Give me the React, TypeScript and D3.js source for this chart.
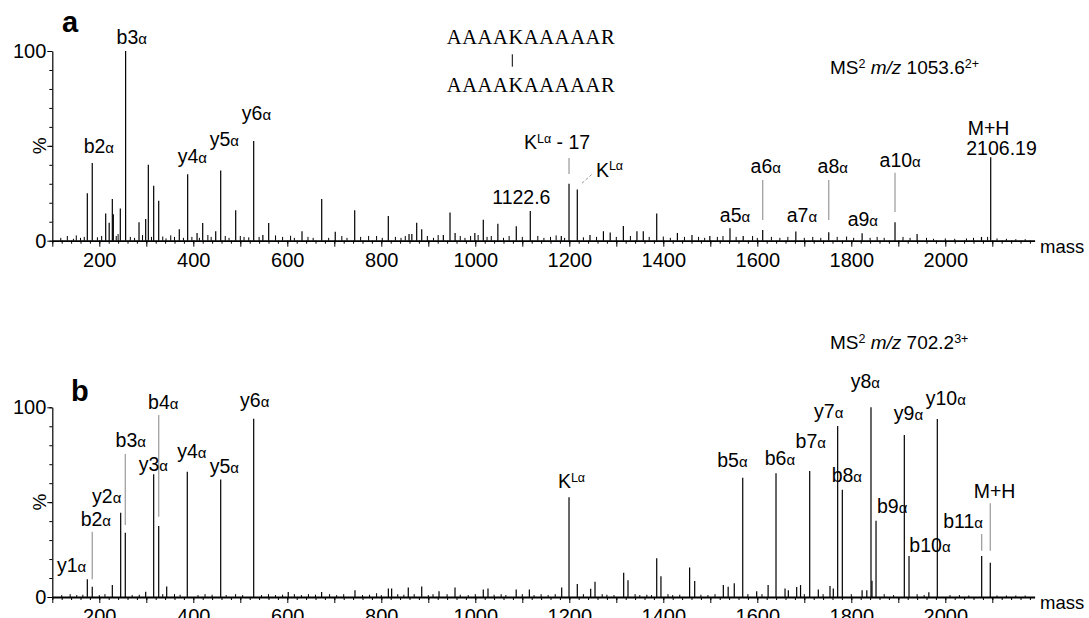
import React, { useEffect, useRef } from "react"
import * as d3 from "d3"

const W = 1089
const H = 618
const FONT = "'Liberation Sans', Arial, sans-serif"

// ---- panel a: MS2 m/z 1053.6 (2+) ----
// [mass, relative intensity %]
const peaksA: [number, number][] = [
  [174.5, 25], [185, 41], [213.6, 14.4], [221, 9.5], [227.7, 22], [229.8, 14], [244.7, 17], [256, 100],
  [284.5, 9.7], [298.7, 11.4], [304.3, 40], [315.7, 29], [326.4, 21], [370.2, 6], [388, 35], [408, 4],
  [420, 9.3], [447.7, 5], [458.3, 37], [490.2, 16], [528.5, 52.6], [548, 3], [560.4, 9.3], [631.3, 5],
  [673.2, 22], [702, 4.7], [743.4, 16], [814.9, 13], [859, 3.5], [865, 3.5], [875.3, 9.5], [886, 6],
  [932, 3], [946.2, 14.8], [957, 4], [999, 4], [1017, 11], [1048, 9], [1087.2, 7.6], [1117, 15.6],
  [1183, 2.5], [1199.4, 30], [1217, 27], [1244, 3], [1272.6, 5], [1287, 4.3], [1315, 7.7], [1343.9, 5],
  [1357.4, 5], [1386, 14.4], [1430, 4], [1461, 3], [1499, 2.5], [1541.9, 6.5], [1570, 2.5], [1611.5, 5.6],
  [1682, 4.8], [1752, 4.4], [1823, 3.9], [1893, 9.7], [1940, 3.5], [2077, 2], [2096.6, 44],
]
const noiseA: [number, number][] = [
  [118, 1.5], [132, 2.5], [145, 1], [151, 2.8], [160, 1.5], [168, 2], [196, 1.8], [205, 2.5], [236, 2.5],
  [240, 3.5], [266, 2], [275, 1.5], [292, 3], [311, 2], [335, 2.2], [342, 1.2], [352, 2.8], [360, 2],
  [379, 1.5], [397, 2], [413, 1.5], [431, 3], [438, 2], [468, 2.5], [476, 1.5], [500, 2.5], [508, 2],
  [518, 1.8], [540, 2], [575, 2.8], [590, 2], [607, 2.6], [615, 1.5], [644, 2], [655, 1.5], [688, 1.5],
  [716, 2.5], [727, 1.5], [756, 2], [773, 2.5], [790, 2.5], [802, 1.5], [830, 2], [842, 1.5], [851, 2.5],
  [898, 2.5], [911, 1.5], [921, 3], [968, 2.5], [978, 1.5], [990, 2.5], [1006, 3], [1025, 2], [1034, 2.5],
  [1060, 1.5], [1072, 2.5], [1100, 2], [1133, 2.5], [1146, 1.5], [1160, 2], [1172, 2.8], [1190, 1.5],
  [1230, 1.8], [1258, 2], [1300, 2], [1330, 2.5], [1370, 2], [1400, 2.2], [1415, 1.5], [1445, 2],
  [1475, 2], [1488, 1.5], [1515, 2], [1527, 2.5], [1555, 2], [1590, 2.5], [1600, 1.5], [1630, 2],
  [1648, 1.5], [1665, 2], [1700, 1.5], [1718, 2], [1735, 1.5], [1770, 2], [1790, 2.2], [1805, 1.5],
  [1840, 1.5], [1855, 2], [1870, 1.5], [1910, 2], [1925, 1.5], [1960, 1.5], [1975, 1], [2000, 1.2],
  [2020, 1], [2045, 1.2], [2060, 1.5], [2090, 2], [2110, 1.2], [2130, 1], [2150, 0.8], [2170, 0.8],
]
// [text, mass at label centre, % at label baseline]; {..} = superscript
const labelsA: [string, number, number][] = [
  ["b3α", 269, 103.5], ["b2α", 199, 46], ["y4α", 398, 40.8], ["y5α", 466, 50], ["y6α", 534.5, 63.6],
  ["1122.6", 1098, 19.3], ["K{Lα} - 17", 1174, 48.3], ["K{Lα}", 1285.5, 33.7],
  ["a5α", 1552.5, 10], ["a6α", 1618, 35.5], ["a7α", 1695, 10], ["a8α", 1760.6, 35.5],
  ["a9α", 1824.5, 7.7], ["a10α", 1904, 39], ["M+H", 2092, 55.7], ["2106.19", 2119.6, 45.2],
]
// [mass, from %, to %]
const leadersA: [number, number, number][] = [
  [1611.5, 32, 10.9], [1752, 32, 10.9], [1893, 35.8, 15.1], [1199.4, 43.6, 35.2],
]
const dashedA: [number, number][] = [[1227, 30.3], [1248, 35]]

// ---- panel b: MS2 m/z 702.2 (3+) ----
const peaksB: [number, number][] = [
  [174.5, 9.3], [185, 5.4], [227.7, 6.3], [245.5, 44.4], [255.3, 33.9], [298.7, 2.8], [315.7, 64.7],
  [326.4, 37.4], [343.4, 5.5], [387.2, 66], [458.3, 62], [528.5, 94], [602, 2.7], [673, 2.7], [744, 3.5],
  [815, 4.5], [822, 4.5], [857.4, 5], [886, 5.6], [922.8, 3], [956.8, 5], [1017, 4], [1027, 4.5],
  [1087, 4], [1115, 4], [1183.8, 5], [1199.4, 52.6], [1217, 6.8], [1245.5, 4.3], [1254.7, 8],
  [1315.7, 12.8], [1324.9, 8.8], [1386, 20.4], [1395, 11], [1456, 15.6], [1466.8, 8.4], [1527.7, 6.3],
  [1538, 5.4], [1551, 7.2], [1569, 62.9], [1598.7, 3], [1623, 6.3], [1639.8, 65.2], [1659, 4.5],
  [1666, 3.5], [1683.8, 5.3], [1692, 6.3], [1711.5, 66.4], [1729.8, 4], [1754.7, 5.8], [1761.7, 4.5],
  [1771, 90.1], [1780.9, 56.6], [1823, 3.5], [1833, 3.5], [1841.9, 100], [1844, 8.6], [1852.6, 40.2],
  [1912.8, 85.4], [1922.8, 21.6], [1965, 2.5], [1983, 93.8], [2077.4, 21.6], [2095.7, 18.1],
]
const noiseB: [number, number][] = [
  [120, 1], [138, 1.5], [152, 1], [165, 1.2], [200, 1], [212, 1.5], [270, 1], [285, 1.2], [335, 1.5],
  [360, 1.5], [372, 1.2], [410, 1], [425, 1.5], [440, 1.2], [470, 1], [490, 1.5], [505, 1], [545, 1],
  [560, 1.5], [575, 1], [590, 1.2], [615, 1.5], [630, 1], [645, 1.5], [660, 1.2], [690, 1.5], [705, 1],
  [720, 1.5], [760, 1], [775, 1.2], [790, 2], [800, 1], [835, 1.5], [848, 1.2], [870, 1.5], [900, 1],
  [910, 1.5], [940, 1.5], [968, 1.2], [985, 1], [1000, 1.5], [1040, 1.2], [1055, 1.5], [1065, 1],
  [1100, 1.5], [1125, 1], [1140, 1.5], [1155, 1], [1170, 1.5], [1230, 1.5], [1270, 1.5], [1280, 1.2],
  [1295, 1], [1340, 1.5], [1350, 1], [1365, 1.2], [1375, 1], [1410, 1.5], [1420, 1], [1435, 1.2],
  [1480, 1.2], [1495, 1], [1510, 1.5], [1580, 1.5], [1610, 1.5], [1700, 1.5], [1740, 1.5], [1800, 1.5],
  [1870, 1.5], [1890, 1], [1940, 1.5], [1955, 1], [2010, 1], [2030, 1], [2050, 0.8], [2110, 0.8],
  [2130, 0.8], [2150, 0.8], [2170, 0.8],
]
const labelsB: [string, number, number][] = [
  ["y1α", 141, 13.3], ["b2α", 192.6, 37.4], ["y2α", 215.7, 49.5], ["b3α", 267, 79], ["y3α", 315, 66.6],
  ["b4α", 336, 99.1], ["y4α", 397, 73.1], ["y5α", 466, 65.5], ["y6α", 530.6, 100], ["K{Lα}", 1204.7, 57.3],
  ["b5α", 1547, 68.7], ["b6α", 1648, 69.6], ["b7α", 1713.8, 78.4], ["y7α", 1752, 94.2], ["b8α", 1790.5, 60.8],
  ["y8α", 1830, 110], ["b9α", 1887, 44.1], ["y9α", 1921.7, 93.3], ["b10α", 1967.4, 23.9],
  ["y10α", 2001, 101.2], ["b11α", 2038, 36.2], ["M+H", 2104.7, 52],
]
const leadersB: [number, number, number][] = [
  [185, 34.4, 9.3], [255.3, 75.4, 38], [326.4, 96, 42.3], [2077.4, 33.2, 24.4], [2095.7, 49.4, 24.4],
]

const massDomain = [100, 2190]
const peptide = "AAAAKAAAAAR"

type Sel = d3.Selection<any, unknown, null, undefined>

function addLabel(g: Sel, str: string, cx: number, cy: number) {
  const t = g.append("text").attr("x", cx).attr("y", cy).attr("text-anchor", "middle").attr("font-size", 19.5)
  const re = /\{([^}]*)\}|α|[^{α]+/g
  let m: RegExpExecArray | null
  let raised = false
  while ((m = re.exec(str))) {
    if (m[1] !== undefined) {
      t.append("tspan").attr("font-size", 12.5).attr("dy", -6.5).text(m[1])
      raised = true
    } else {
      const sp = t.append("tspan").attr("font-size", m[0] === "α" ? 15 : 19.5).text(m[0])
      if (raised) {
        sp.attr("dy", 6.5)
        raised = false
      }
    }
  }
}

function drawPanel(svg: Sel, x: d3.ScaleLinear<number, number>, opt: any) {
  const y = d3.scaleLinear().domain([0, 100]).range([opt.y0, opt.y100])
  const g = svg.append("g").attr("font-family", FONT)

  g.selectAll(null).data(opt.noise).enter().append("line")
    .attr("x1", (d: any) => x(d[0])).attr("x2", (d: any) => x(d[0]))
    .attr("y1", y(0)).attr("y2", (d: any) => y(d[1]))
    .attr("stroke", "#000").attr("stroke-width", 1)

  g.selectAll(null).data(opt.leaders).enter().append("line")
    .attr("x1", (d: any) => x(d[0])).attr("x2", (d: any) => x(d[0]))
    .attr("y1", (d: any) => y(d[1])).attr("y2", (d: any) => y(d[2]))
    .attr("stroke", "#a0a0a0").attr("stroke-width", 1.3)

  g.selectAll(null).data(opt.peaks).enter().append("line")
    .attr("x1", (d: any) => x(d[0])).attr("x2", (d: any) => x(d[0]))
    .attr("y1", y(0)).attr("y2", (d: any) => y(d[1]))
    .attr("stroke", "#000").attr("stroke-width", 1.2)

  if (opt.dashed) {
    g.append("line")
      .attr("x1", x(opt.dashed[0][0])).attr("y1", y(opt.dashed[0][1]))
      .attr("x2", x(opt.dashed[1][0])).attr("y2", y(opt.dashed[1][1]))
      .attr("stroke", "#999").attr("stroke-width", 1).attr("stroke-dasharray", "3,2")
  }

  // x axis
  const minor = d3.axisBottom(x).tickValues(d3.range(100, 2181, 20)).tickSize(3).tickSizeOuter(0).tickFormat(() => "")
  const major = d3.axisBottom(x).tickValues(d3.range(100, 2101, 100)).tickSize(6).tickSizeOuter(0).tickPadding(6)
    .tickFormat((d) => (+d % 200 === 0 ? String(d) : ""))
  const gx1 = g.append("g").attr("transform", `translate(0,${opt.y0})`).call(minor)
  const gx2 = g.append("g").attr("transform", `translate(0,${opt.y0})`).call(major)
  gx1.select(".domain").attr("stroke-width", 1.8)
  gx2.select(".domain").remove()

  // y axis
  const yMinor = d3.axisLeft(y).tickValues(d3.range(0, 101, 10)).tickSize(3).tickSizeOuter(0).tickFormat(() => "")
  const yMajor = d3.axisLeft(y).tickValues([0, 50, 100]).tickSize(5).tickSizeOuter(0).tickPadding(1)
    .tickFormat((d) => (+d === 50 ? "" : String(d)))
  const gy1 = g.append("g").attr("transform", `translate(${x(100)},0)`).call(yMinor)
  const gy2 = g.append("g").attr("transform", `translate(${x(100)},0)`).call(yMajor)
  gy1.select(".domain").attr("stroke-width", 1.2)
  gy2.select(".domain").remove()

  g.selectAll(".tick text").attr("font-size", 20).attr("font-family", FONT).attr("fill", "#000")
  g.selectAll(".tick line").attr("stroke", "#000")

  g.append("text").attr("transform", `translate(${x(100) - 6.5},${y(50)}) rotate(-90)`)
    .attr("text-anchor", "middle").attr("font-size", 19).text("%")
  g.append("text").attr("x", 1040).attr("y", opt.y0 + 12).attr("font-size", 18.5).text("mass")
  g.append("text").attr("x", opt.letterX).attr("y", opt.letterY).attr("font-size", 29)
    .attr("font-weight", "bold").text(opt.letter)

  opt.labels.forEach((l: [string, number, number]) => addLabel(g, l[0], x(l[1]), y(l[2])))

  const ms = g.append("text").attr("x", 830).attr("y", opt.msY).attr("font-size", 19)
  ms.append("tspan").text("MS")
  ms.append("tspan").attr("font-size", 12.5).attr("dy", -6.5).text("2")
  ms.append("tspan").attr("dy", 6.5).text(" ")
  ms.append("tspan").attr("font-style", "italic").text("m/z")
  ms.append("tspan").text(" " + opt.precursor)
  ms.append("tspan").attr("font-size", 12.5).attr("dy", -6.5).text(opt.charge)
}

const App = () => {
  const ref = useRef<SVGSVGElement>(null)

  useEffect(() => {
    const svg = d3.select(ref.current) as Sel
    svg.selectAll("*").remove()
    const x = d3.scaleLinear().domain(massDomain).range([52.3, 52.3 + (massDomain[1] - massDomain[0]) * 0.47])

    drawPanel(svg, x, {
      y0: 240.7, y100: 51, peaks: peaksA, noise: noiseA, labels: labelsA, leaders: leadersA, dashed: dashedA,
      letter: "a", letterX: 62, letterY: 32, msY: 74, precursor: "1053.6", charge: "2+",
    })
    drawPanel(svg, x, {
      y0: 597, y100: 407.3, peaks: peaksB, noise: noiseB, labels: labelsB, leaders: leadersB, dashed: null,
      letter: "b", letterX: 71, letterY: 401, msY: 349.3, precursor: "702.2", charge: "3+",
    })

    // cross-linked peptide
    const pep = svg.append("g").attr("font-family", "'Liberation Serif', 'Times New Roman', serif").attr("font-size", 20.5)
    pep.append("text").attr("x", 446.7).attr("y", 43.5).attr("textLength", 168).text(peptide)
    pep.append("text").attr("x", 446.7).attr("y", 91.7).attr("textLength", 168).text(peptide)
    pep.append("line").attr("x1", 512.3).attr("x2", 512.3).attr("y1", 54.3).attr("y2", 66.7)
      .attr("stroke", "#000").attr("stroke-width", 1)
  }, [])

  return (
    <svg ref={ref} width={W} height={H}
      style={{ position: "absolute", left: 0, top: 0, background: "#fff", overflow: "hidden" }} />
  )
}

export default App
